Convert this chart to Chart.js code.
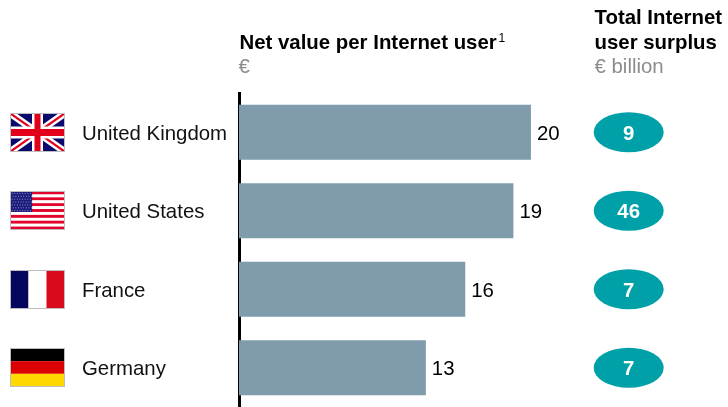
<!DOCTYPE html>
<html>
<head>
<meta charset="utf-8">
<style>html,body{margin:0;padding:0;background:#fff}canvas{display:block}</style>
<script src="https://cdn.jsdelivr.net/npm/chart.js@4"></script>
</head>
<body>
<canvas id="c" width="728" height="407"></canvas>
<script>
const countries = ["United Kingdom", "United States", "France", "Germany"];
const netValue = [20, 18.8, 15.5, 12.8];
const surplus = [9, 46, 7, 7];
const flagCodes = ["uk", "us", "fr", "de"];
const FONT = '"Liberation Sans", Arial, sans-serif';

function drawFlag(ctx, code, x, y, w, h) {
  ctx.save();
  ctx.beginPath(); ctx.rect(x, y, w, h); ctx.clip();
  ctx.fillStyle = '#fff'; ctx.fillRect(x, y, w, h);
  if (code === 'uk') {
    ctx.fillStyle = '#0a0a6e'; ctx.fillRect(x, y, w, h);
    ctx.lineCap = 'butt';
    const d = (a, b, c, e, col, lw) => { ctx.strokeStyle = col; ctx.lineWidth = lw; ctx.beginPath(); ctx.moveTo(a, b); ctx.lineTo(c, e); ctx.stroke(); };
    d(x, y, x + w, y + h, '#fff', 7); d(x + w, y, x, y + h, '#fff', 7);
    d(x, y, x + w, y + h, '#e2001a', 2.2); d(x + w, y, x, y + h, '#e2001a', 2.2);
    ctx.fillStyle = '#fff';
    ctx.fillRect(x + w / 2 - 5.5, y, 11, h); ctx.fillRect(x, y + h / 2 - 6, w, 12);
    ctx.fillStyle = '#e2001a';
    ctx.fillRect(x + w / 2 - 3, y, 6, h); ctx.fillRect(x, y + h / 2 - 3.5, w, 7);
  } else if (code === 'us') {
    const s = h / 13;
    for (let i = 0; i < 13; i++) {
      ctx.fillStyle = i % 2 ? '#fff' : '#e2062c';
      ctx.fillRect(x, y + i * s, w, s + 0.2);
    }
    ctx.fillStyle = '#1c1c7c'; ctx.fillRect(x, y, w * 0.4, s * 7);
    ctx.fillStyle = '#a8a8de';
    for (let r = 0; r < 7; r++) for (let c = 0; c < 8; c++) {
      ctx.fillRect(x + 1.2 + c * 2.6 + (r % 2) * 1.1, y + 1.4 + r * 2.9, 0.9, 0.9);
    }
  } else if (code === 'fr') {
    ctx.fillStyle = '#06065e'; ctx.fillRect(x, y, w / 3, h);
    ctx.fillStyle = '#fff'; ctx.fillRect(x + w / 3, y, w / 3, h);
    ctx.fillStyle = '#d80a1c'; ctx.fillRect(x + 2 * w / 3, y, w / 3, h);
  } else {
    ctx.fillStyle = '#000'; ctx.fillRect(x, y, w, h / 3);
    ctx.fillStyle = '#dd0000'; ctx.fillRect(x, y + h / 3, w, h / 3);
    ctx.fillStyle = '#ffd800'; ctx.fillRect(x, y + 2 * h / 3, w, h / 3);
  }
  ctx.restore();
  ctx.strokeStyle = '#bdbdbd'; ctx.lineWidth = 1;
  ctx.strokeRect(x, y, w, h);
}

const decorations = {
  id: 'decorations',
  afterDraw(chart) {
    const ctx = chart.ctx, ys = chart.scales.y;
    const bars = chart.getDatasetMeta(0).data;
    ctx.save();
    countries.forEach((name, i) => {
      const cy = ys.getPixelForValue(i);
      ctx.font = '20.4px ' + FONT; ctx.fillStyle = '#000'; ctx.textAlign = 'left'; ctx.textBaseline = 'middle';
      ctx.fillText(String(Math.round(netValue[i])), bars[i].x + 6, cy + 2);
      drawFlag(ctx, flagCodes[i], 10.5, Math.round(cy - 19.5) + 0.5, 54, 38);
      ctx.fillStyle = '#00a0a8';
      ctx.beginPath(); ctx.ellipse(628.7, cy, 35, 20, 0, 0, Math.PI * 2); ctx.fill();
      ctx.fillStyle = '#fff'; ctx.font = 'bold 20.4px ' + FONT; ctx.textAlign = 'center';
      ctx.fillText(String(surplus[i]), 628.7, cy + 2);
    });
    ctx.textBaseline = 'alphabetic'; ctx.textAlign = 'left';
    ctx.fillStyle = '#000'; ctx.font = 'bold 20.4px ' + FONT;
    ctx.fillText('Net value per Internet user', 239.5, 49);
    ctx.fillText('Total Internet', 594.5, 24);
    ctx.fillText('user surplus', 594.5, 49);
    ctx.font = '12px ' + FONT;
    ctx.fillText('1', 498.5, 42);
    ctx.fillStyle = '#8c8c8c'; ctx.font = '20.4px ' + FONT;
    ctx.fillText('€', 238.5, 73);
    ctx.fillText('€ billion', 594.5, 73);
    ctx.restore();
  }
};

new Chart(document.getElementById('c'), {
  type: 'bar',
  data: {
    labels: countries,
    datasets: [{ data: netValue, backgroundColor: '#7f9bac', barPercentage: 0.7, categoryPercentage: 1, borderWidth: 0 }]
  },
  options: {
    indexAxis: 'y',
    responsive: false,
    animation: false,
    layout: { padding: { left: 82, top: 93, right: 0, bottom: 0 } },
    plugins: { legend: { display: false }, tooltip: { enabled: false } },
    scales: {
      x: { display: false, min: 0, max: 33.5 },
      y: {
        z: 1,
        afterFit(s) { s.width = 157; s.paddingTop = 0; s.paddingBottom = 0; },
        grid: { display: false, drawTicks: false },
        border: { display: true, color: '#000', width: 3 },
        ticks: { crossAlign: 'far', color: '#111', font: { family: FONT, size: 20.4 }, padding: 0, labelOffset: 2 }
      }
    }
  },
  plugins: [decorations]
});
</script>
</body>
</html>
